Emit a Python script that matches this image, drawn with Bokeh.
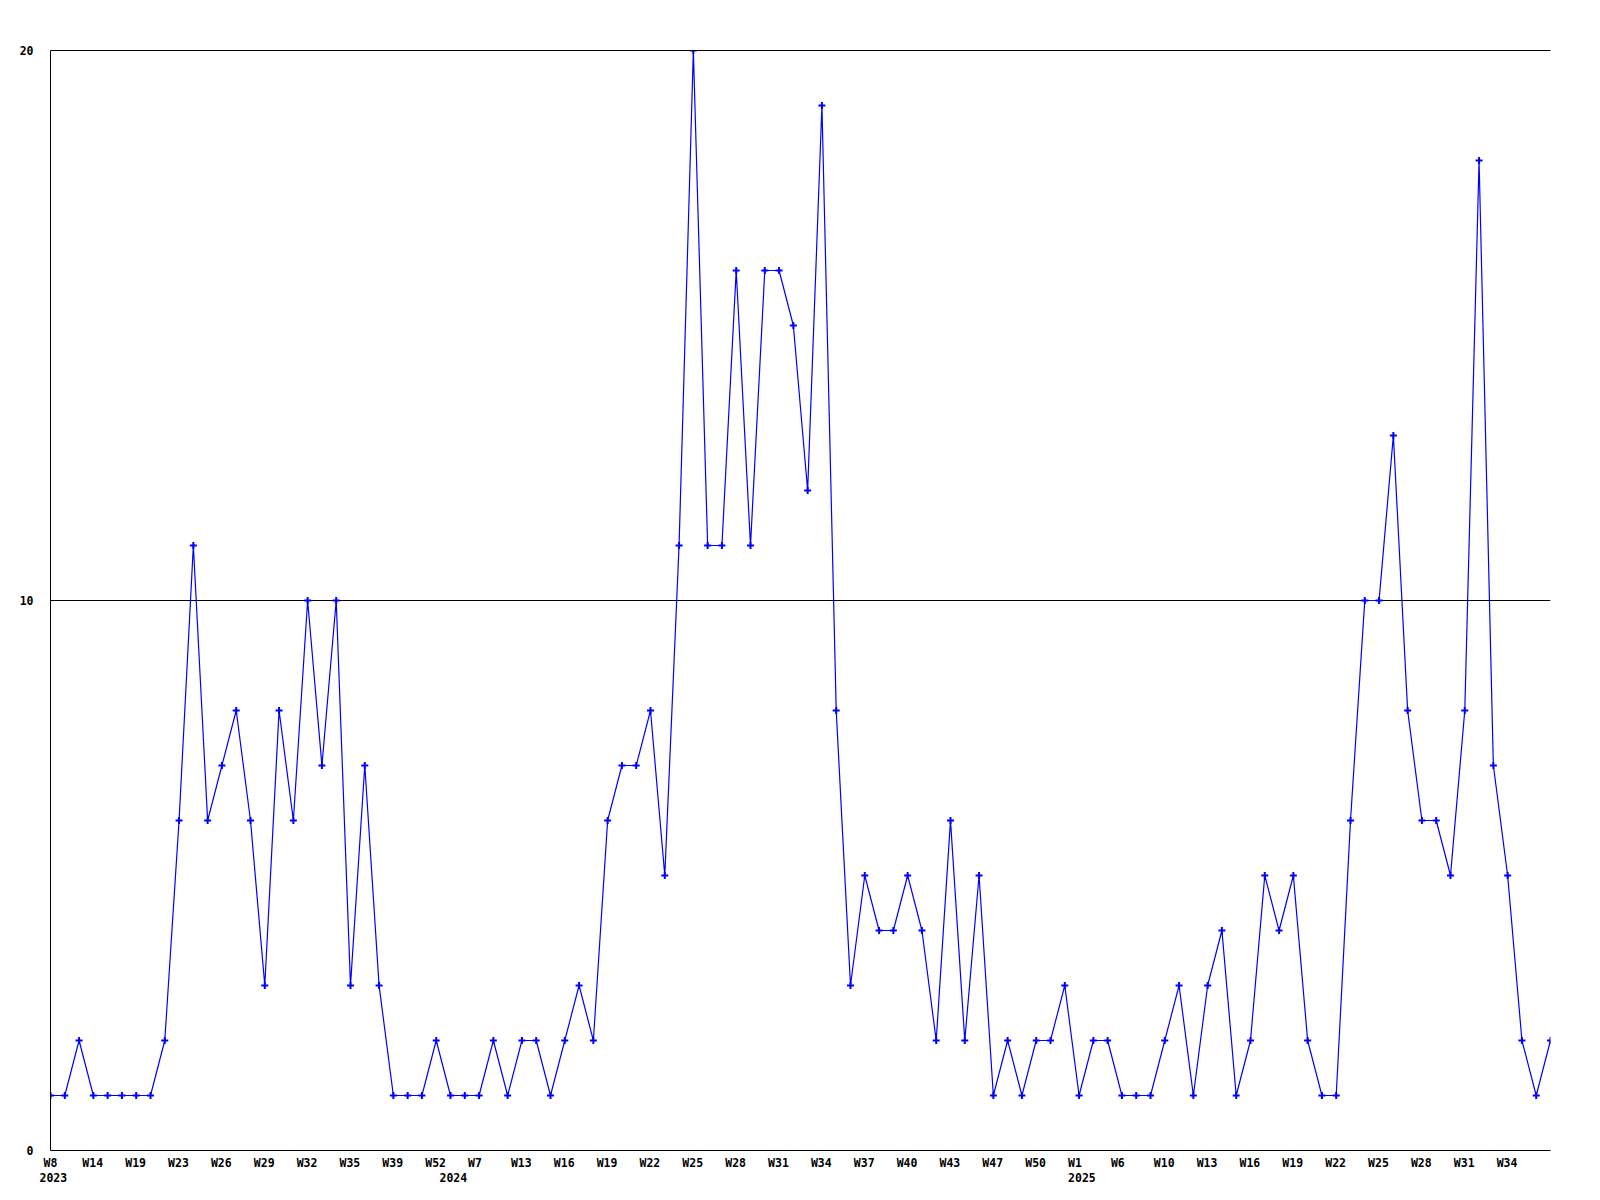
from bokeh.plotting import figure
from bokeh.models import Range1d, FixedTicker, ColumnDataSource, LinearAxis, CustomJSTickFormatter
from bokeh.embed import file_html
from bokeh.resources import INLINE

# ---------------- data ----------------
VALUES = [1, 1, 2, 1, 1, 1, 1, 1, 2, 6,
          11, 6, 7, 8, 6, 3, 8, 6, 10, 7,
          10, 3, 7, 3, 1, 1, 1, 2, 1, 1,
          1, 2, 1, 2, 2, 1, 2, 3, 2, 6,
          7, 7, 8, 5, 11, 20, 11, 11, 16, 11,
          16, 16, 15, 12, 19, 8, 3, 5, 4, 4,
          5, 4, 2, 6, 2, 5, 1, 2, 1, 2,
          2, 3, 1, 2, 2, 1, 1, 1, 2, 3,
          1, 3, 4, 1, 2, 5, 4, 5, 2, 1,
          1, 6, 10, 10, 13, 8, 6, 6, 5, 8,
          18, 7, 5, 2, 1, 2]

WEEK_LABELS = ["W8", "W14", "W19", "W23", "W26", "W29", "W32", "W35", "W39", "W52",
               "W7", "W13", "W16", "W19", "W22", "W25", "W28", "W31", "W34", "W37",
               "W40", "W43", "W47", "W50",
               "W1", "W6", "W10", "W13", "W16", "W19", "W22", "W25", "W28", "W31", "W34"]
WEEK_LABEL_STEP = 3

YEAR_LABELS = ["2023", "2024", "2025"]
YEAR_START_INDEX = [0, 28, 72]

Y_TICKS = [0, 10, 20]
Y_MAX = 20

# ---------------- layout ----------------
FRAME_W, FRAME_H = 1500, 1100
LEFT, TOP, RIGHT, BOTTOM = 50, 50, 42, 42
FONT = "DejaVu Sans Mono"
FONT_PX = 11.5
CHAR_W = 0.602 * FONT_PX
LABEL_LEFT_SHIFT = -11   # label's left edge relative to its point, px
BLUE = "#0000FF"

n = len(VALUES)
xs = list(range(n))
px_per_unit = FRAME_W / (n - 1)


def centre(idx, text):
    return max(0.0, idx + (LABEL_LEFT_SHIFT + len(text) * CHAR_W / 2) / px_per_unit)


week_idx = [i * WEEK_LABEL_STEP for i in range(len(WEEK_LABELS))]
week_pos = [centre(i, t) for i, t in zip(week_idx, WEEK_LABELS)]
year_pos = [centre(i, t) for i, t in zip(YEAR_START_INDEX, YEAR_LABELS)]

p = figure(width=FRAME_W + LEFT + RIGHT, height=FRAME_H + TOP + BOTTOM,
           frame_width=FRAME_W, frame_height=FRAME_H,
           output_backend="svg", toolbar_location=None,
           x_range=Range1d(0, n - 1), y_range=Range1d(0, Y_MAX),
           min_border_left=LEFT, min_border_right=RIGHT,
           min_border_top=TOP, min_border_bottom=BOTTOM)
p.outline_line_color = None
p.background_fill_color = "white"
p.border_fill_color = "white"


def style_axis(ax):
    ax.major_tick_line_color = None
    ax.minor_tick_line_color = None
    ax.major_tick_out = 0
    ax.major_tick_in = 0
    ax.minor_tick_out = 0
    ax.minor_tick_in = 0
    ax.axis_line_color = "black"
    ax.axis_line_width = 1
    ax.major_label_text_font = FONT
    ax.major_label_text_font_size = f"{FONT_PX}px"
    ax.major_label_text_font_style = "bold"
    ax.major_label_text_color = "black"


fmt_code = """
const j = idx.indexOf(Math.round(tick));
return j >= 0 ? labels[j] : "";
"""

# bottom axis: week labels
xa = p.xaxis[0]
style_axis(xa)
xa.ticker = FixedTicker(ticks=week_pos)
xa.formatter = CustomJSTickFormatter(args=dict(idx=week_idx, labels=WEEK_LABELS), code=fmt_code)
xa.major_label_standoff = 5

# second bottom axis: years
ya2 = LinearAxis()
style_axis(ya2)
ya2.axis_line_color = None
ya2.ticker = FixedTicker(ticks=year_pos)
ya2.formatter = CustomJSTickFormatter(args=dict(idx=YEAR_START_INDEX, labels=YEAR_LABELS), code=fmt_code)
ya2.major_label_standoff = 0
p.add_layout(ya2, "below")

# left axis
la = p.yaxis[0]
style_axis(la)
la.ticker = FixedTicker(ticks=Y_TICKS)
la.major_label_standoff = 17

# top line (at y = 20)
ta = LinearAxis()
style_axis(ta)
ta.ticker = FixedTicker(ticks=[])
ta.major_label_text_font_size = "0px"
p.add_layout(ta, "above")

p.xgrid.visible = False
p.ygrid.ticker = FixedTicker(ticks=Y_TICKS)
p.ygrid.grid_line_color = "black"
p.ygrid.grid_line_alpha = 1.0
p.ygrid.grid_line_width = 1

# series
src = ColumnDataSource(dict(x=xs, y=VALUES))
p.line("x", "y", source=src, line_color=BLUE, line_width=1.2)
p.scatter("x", "y", source=src, marker="cross", size=7, line_color=BLUE, line_width=2)

open("out.html", "w").write(file_html(p, INLINE))
